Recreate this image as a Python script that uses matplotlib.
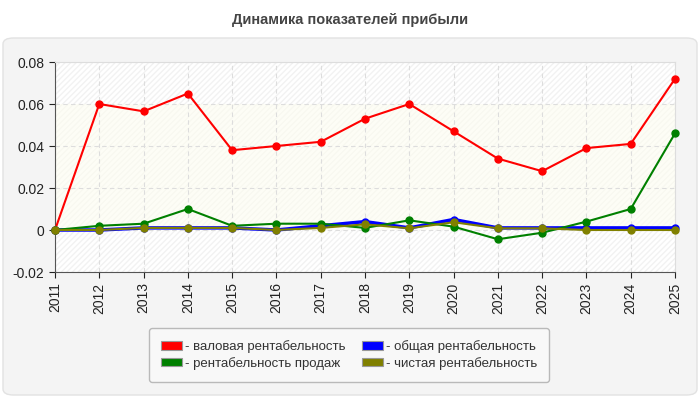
import matplotlib.pyplot as plt
from matplotlib.patches import FancyBboxPatch, Rectangle, Patch

plt.rcParams['font.family'] = ['Liberation Sans', 'DejaVu Sans']

# данные
years = [str(y) for y in range(2011, 2026)]
gross = [0.0, 0.060, 0.0565, 0.065, 0.038, 0.040, 0.042, 0.053, 0.060, 0.047, 0.034, 0.028, 0.039, 0.041, 0.072]
total = [0.0, 0.0, 0.001, 0.001, 0.001, 0.0, 0.002, 0.004, 0.001, 0.005, 0.001, 0.001, 0.001, 0.001, 0.001]
sales = [0.0, 0.002, 0.003, 0.010, 0.002, 0.003, 0.003, 0.001, 0.0046, 0.0016, -0.0044, -0.0013, 0.004, 0.010, 0.046]
net = [0.0, 0.0, 0.001, 0.001, 0.001, 0.0, 0.001, 0.0027, 0.0008, 0.0037, 0.0008, 0.0008, 0.0, 0.0, 0.0]
yticks = [-0.02, 0, 0.02, 0.04, 0.06, 0.08]
ytick_labels = ["-0.02", "0", "0.02", "0.04", "0.06", "0.08"]
names = ["- валовая рентабельность", "- общая рентабельность",
         "- рентабельность продаж", "- чистая рентабельность"]
colors = ["#ff0000", "#0000ff", "#008000", "#808000"]

fig = plt.figure(figsize=(7, 4), dpi=100)
fig.patch.set_facecolor("white")

# серая панель
panel = FancyBboxPatch((3 / 700, 5 / 400), 694 / 700, 357 / 400,
                       boxstyle="round,pad=0,rounding_size=0.015",
                       transform=fig.transFigure, facecolor="#f4f4f4",
                       edgecolor="#e2e2e2", lw=1, zorder=-5)
fig.patches.append(panel)

fig.text(0.5, 1 - 20 / 400, "Динамика показателей прибыли", ha="center", va="center",
         fontsize=10.5, fontweight="bold", color="#444444",
         family=['Liberation Sans Narrow', 'Liberation Sans', 'DejaVu Sans'])

ax = fig.add_axes([55 / 700, 1 - 272 / 400, 620 / 700, 210 / 400])
ax.set_zorder(2)
ax.set_facecolor("white")
x = list(range(len(years)))
ax.set_xlim(0, len(years) - 1)
ax.set_ylim(-0.02, 0.08)

# штриховка и светлая полоса
ax.add_patch(Rectangle((0, 0), 1, 1, transform=ax.transAxes, facecolor="none",
                       edgecolor="#f2f2f2", hatch="//////", lw=0, zorder=0))
ax.axhspan(0, 0.06, color="#fdfdf0", alpha=0.6, zorder=0.5, lw=0)

ax.grid(True, color="#dddddd", ls=(0, (4, 3)), lw=0.8)
ax.set_axisbelow(True)

lw, ms = 1.5, 5
ax.plot(x, gross, color=colors[0], marker="o", lw=lw, ms=ms, zorder=3, clip_on=False)
ax.plot(x, total, color=colors[1], marker="o", lw=lw + 1, ms=ms, zorder=3, clip_on=False)
ax.plot(x, sales, color=colors[2], marker="o", lw=lw, ms=ms, zorder=4, clip_on=False)
ax.plot(x, net, color=colors[3], marker="o", lw=lw, ms=ms, zorder=5, clip_on=False)

ax.set_xticks(x)
ax.set_xticklabels(years, rotation=90, fontsize=10)
ax.set_yticks(yticks)
ax.set_yticklabels(ytick_labels, fontsize=10)
ax.tick_params(colors="#222222", length=4)
for s in ["top", "right"]:
    ax.spines[s].set_color("#dddddd")
for s in ["left", "bottom"]:
    ax.spines[s].set_color("#555555")

# легенда: по строкам (красный, синий / зелёный, оливковый)
order = [0, 2, 1, 3]
handles = [Patch(facecolor=colors[i], edgecolor="#999999", lw=0.8) for i in order]
leg = fig.legend(handles, [names[i] for i in order], ncol=2,
                 loc="center", bbox_to_anchor=(349 / 700, 1 - 355 / 400),
                 fontsize=9.5, frameon=True, handlelength=1.6, handleheight=0.6,
                 columnspacing=1.3, labelspacing=0.3, handletextpad=0.2,
                 borderpad=0.9, fancybox=True)
leg.get_frame().set_facecolor("#fafafa")
leg.get_frame().set_edgecolor("#aaaaaa")
for t in leg.get_texts():
    t.set_color("#333333")

fig.savefig("out.png", dpi=100)
